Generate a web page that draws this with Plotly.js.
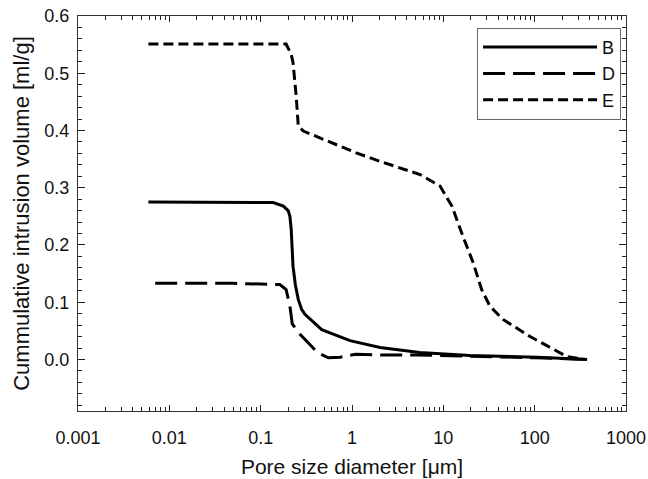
<!DOCTYPE html>
<html>
<head>
<meta charset="utf-8">
<script src="https://cdn.plot.ly/plotly-3.0.1.min.js"></script>
<style>html,body{margin:0;padding:0;background:#fff;}#chart{width:648px;height:479px;}</style>
</head>
<body>
<div id="chart"></div>
<script>
// Series B (solid)
const xB = [0.0059, 0.05, 0.137, 0.177, 0.2, 0.209, 0.216, 0.226, 0.24, 0.258, 0.28, 0.305, 0.466, 0.95, 2.03, 5.5, 19.5, 107, 375];
const yB = [0.275, 0.275, 0.274, 0.268, 0.26, 0.25, 0.227, 0.163, 0.13, 0.105, 0.088, 0.079, 0.052, 0.033, 0.021, 0.012, 0.007, 0.004, 0.0];
// Series D (long dash)
const xD = [0.007, 0.05, 0.162, 0.19, 0.209, 0.217, 0.222, 0.27, 0.42, 0.55, 0.74, 1.1, 1.86, 5, 20, 100, 370];
const yD = [0.133, 0.133, 0.131, 0.122, 0.093, 0.07, 0.062, 0.044, 0.012, 0.003, 0.004, 0.009, 0.008, 0.008, 0.006, 0.003, 0.0];
// Series E (short dash)
const xE = [0.0059, 0.05, 0.19, 0.216, 0.226, 0.245, 0.258, 0.293, 1.11, 2.03, 5.56, 9.2, 12.4, 16.4, 21.1, 26.3, 32.4, 45, 89, 226, 356];
const yE = [0.551, 0.551, 0.551, 0.533, 0.519, 0.46, 0.408, 0.399, 0.361, 0.346, 0.323, 0.303, 0.268, 0.215, 0.170, 0.122, 0.093, 0.070, 0.040, 0.005, 0.0];

const seriesNames = ['B', 'D', 'E'];
const xTickVals = [0.001, 0.01, 0.1, 1, 10, 100, 1000];
const xTickText = ['0.001', '0.01', '0.1', '1', '10', '100', '1000'];
const yTickVals = [0.0, 0.1, 0.2, 0.3, 0.4, 0.5, 0.6];

const font = 'Liberation Sans, Arial, Helvetica, sans-serif';

const traces = [
  {x: xB, y: yB, name: seriesNames[0], legendgroup: 'b', mode: 'lines', line: {color: '#000', width: 3}},
  {x: xD, y: yD, name: seriesNames[1], legendgroup: 'd', mode: 'lines', line: {color: '#000', width: 3, dash: '22px,8px'}},
  {x: xE, y: yE, name: seriesNames[2], legendgroup: 'e', mode: 'lines', line: {color: '#000', width: 3, dash: '10px,5px'}}
];

const layout = {
  width: 648, height: 479,
  margin: {l: 78, r: 22, t: 16, b: 68},
  paper_bgcolor: '#fff', plot_bgcolor: '#fff',
  font: {family: font, color: '#111', size: 18},
  showlegend: true,
  legend: {
    x: 0.991, xanchor: 'right', y: 0.97, yanchor: 'top',
    bordercolor: '#666', borderwidth: 1, bgcolor: '#fff',
    font: {family: font, size: 18, color: '#111'},
    tracegroupgap: 2, traceorder: 'normal',
    itemwidth: 114
  },
  xaxis: {
    type: 'log', range: [-3, 3],
    tickmode: 'array', tickvals: xTickVals, ticktext: xTickText,
    ticks: 'inside', ticklen: 6, tickcolor: '#222',
    showline: true, linecolor: '#333', linewidth: 1, mirror: 'ticks',
    showgrid: false, zeroline: false,
    ticklabelstandoff: 10,
    minor: {ticks: 'inside', ticklen: 4, dtick: 'D1', tickcolor: '#222', showgrid: false},
    tickfont: {size: 18},
    title: {text: 'Pore size diameter [μm]', font: {size: 21}, standoff: 12}
  },
  yaxis: {
    range: [-0.09, 0.6],
    tickmode: 'array', tickvals: yTickVals, tickformat: '.1f',
    ticks: 'inside', ticklen: 7, tickcolor: '#222',
    showline: true, linecolor: '#333', linewidth: 1, mirror: 'ticks',
    showgrid: false, zeroline: false,
    ticklabelstandoff: 4,
    minor: {ticks: 'inside', ticklen: 4, dtick: 0.02, tickcolor: '#222', showgrid: false},
    tickfont: {size: 18},
    title: {text: 'Cummulative intrusion volume [ml/g]', font: {size: 22}, standoff: 8}
  }
};

Plotly.newPlot('chart', traces, layout, {staticPlot: true, displayModeBar: false});
</script>
</body>
</html>
